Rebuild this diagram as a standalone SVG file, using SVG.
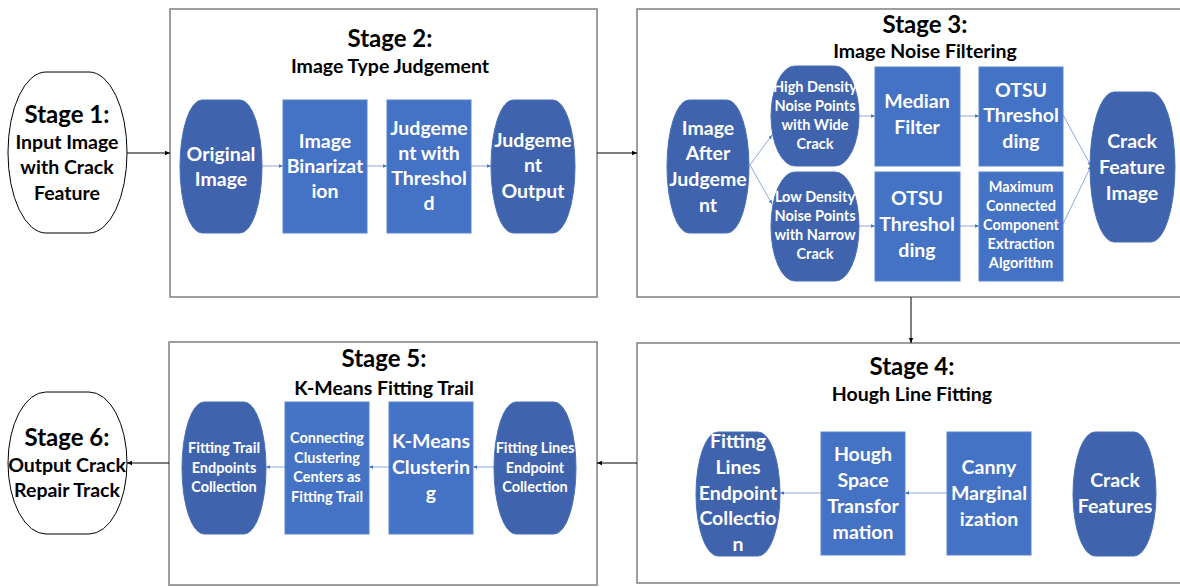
<svg xmlns="http://www.w3.org/2000/svg" width="1180" height="587" viewBox="0 0 1180 587">
<style>
.stage{fill:#fff;stroke:#7f7f7f;stroke-width:1.5}
.term{fill:#fff;stroke:#000;stroke-width:1}
.oval{fill:#3F63AD;stroke:#4A70B8;stroke-width:1}
.box{fill:#4472C4;stroke:#5B84CC;stroke-width:1}
text{font-family:Lato,"Liberation Sans",sans-serif;font-weight:bold;text-anchor:middle}
.t1{font-size:24px;fill:#000}
.t2{font-size:19.5px;fill:#000}
.w{font-size:19.5px;fill:#fff}
.s{font-size:14.5px;fill:#fff}
.bl{stroke:#000;stroke-width:1;fill:none}
.bu{stroke:#6F93D6;stroke-width:0.8;fill:none}
</style>
<defs>
<marker id="ak" markerWidth="6" markerHeight="6" refX="5" refY="3" orient="auto" markerUnits="userSpaceOnUse"><path d="M0,0.8 L5,3 L0,5.2 z" fill="#000"/></marker>
<marker id="au" markerWidth="5" markerHeight="5" refX="4" refY="2.5" orient="auto" markerUnits="userSpaceOnUse"><path d="M0,0.8 L4,2.5 L0,4.2 z" fill="#4472C4"/></marker>
</defs>

<g id="stage2-frame"><rect class="stage" x="170" y="9" width="427" height="288"/>
<text class="t1" x="390" y="47">Stage 2:</text><text class="t2" x="390" y="73">Image Type Judgement</text></g>
<g id="stage3-frame"><rect class="stage" x="637" y="9" width="545" height="288"/>
<text class="t1" x="925" y="33">Stage 3:</text><text class="t2" x="925" y="58">Image Noise Filtering</text></g>
<g id="stage4-frame"><rect class="stage" x="637" y="343" width="545" height="240"/>
<text class="t1" x="912" y="375">Stage 4:</text><text class="t2" x="912" y="401">Hough Line Fitting</text></g>
<g id="stage5-frame"><rect class="stage" x="169" y="342" width="428" height="243"/>
<text class="t1" x="384" y="367">Stage 5:</text><text class="t2" x="384" y="395">K-Means Fitting Trail</text></g>

<g id="connectors">
<line class="bl" x1="127" y1="153" x2="170" y2="153" marker-end="url(#ak)"/>
<line class="bl" x1="597" y1="153" x2="637" y2="153" marker-end="url(#ak)"/>
<line class="bl" x1="911" y1="297" x2="911" y2="343" marker-end="url(#ak)"/>
<line class="bl" x1="637" y1="463" x2="597" y2="463" marker-end="url(#ak)"/>
<line class="bl" x1="169" y1="463" x2="127" y2="463" marker-end="url(#ak)"/>
<line class="bu" x1="262" y1="166" x2="283" y2="166" marker-end="url(#au)"/>
<line class="bu" x1="367" y1="166" x2="387" y2="166" marker-end="url(#au)"/>
<line class="bu" x1="471" y1="166" x2="491" y2="166" marker-end="url(#au)"/>
<line class="bu" x1="750" y1="165" x2="772" y2="135" marker-end="url(#au)"/>
<line class="bu" x1="750" y1="165" x2="772" y2="204" marker-end="url(#au)"/>
<line class="bu" x1="859" y1="116" x2="875" y2="116" marker-end="url(#au)"/>
<line class="bu" x1="859" y1="226" x2="875" y2="226" marker-end="url(#au)"/>
<line class="bu" x1="960" y1="116" x2="979" y2="116" marker-end="url(#au)"/>
<line class="bu" x1="960" y1="226" x2="979" y2="226" marker-end="url(#au)"/>
<line class="bu" x1="1063" y1="115" x2="1091" y2="166" marker-end="url(#au)"/>
<line class="bu" x1="1063" y1="224" x2="1091" y2="166" marker-end="url(#au)"/>
<line class="bu" x1="947" y1="493" x2="905" y2="493" marker-end="url(#au)"/>
<line class="bu" x1="821" y1="493" x2="780" y2="493" marker-end="url(#au)"/>
<line class="bu" x1="494" y1="467" x2="473" y2="467" marker-end="url(#au)"/>
<line class="bu" x1="389" y1="467" x2="369" y2="467" marker-end="url(#au)"/>
<line class="bu" x1="285" y1="467" x2="266" y2="467" marker-end="url(#au)"/>
</g>

<g id="stage1"><rect class="term" x="8" y="72" width="119" height="161" rx="38" ry="80"/>
<text class="t1" x="67" y="123">Stage 1:</text>
<text class="t2" x="67" y="149">Input Image</text><text class="t2" x="67" y="174">with Crack</text><text class="t2" x="67" y="200">Feature</text></g>

<g id="original-image"><rect class="oval" x="180" y="100" width="82" height="133" rx="22" ry="66"/>
<text class="w" x="221" y="161">Original</text><text class="w" x="221" y="186">Image</text></g>
<g id="image-binarization"><rect class="box" x="283" y="100" width="84" height="133"/>
<text class="w" x="325" y="148">Image</text><text class="w" x="325" y="173">Binarizat</text><text class="w" x="325" y="198">ion</text></g>
<g id="judgement-threshold"><rect class="box" x="387" y="100" width="84" height="133"/>
<text class="w" x="429" y="135">Judgeme</text><text class="w" x="429" y="160">nt with</text><text class="w" x="429" y="185">Threshol</text><text class="w" x="429" y="210">d</text></g>
<g id="judgement-output"><rect class="oval" x="491" y="100" width="84" height="133" rx="22" ry="66"/>
<text class="w" x="533" y="147">Judgeme</text><text class="w" x="533" y="172">nt</text><text class="w" x="533" y="198">Output</text></g>

<g id="image-after-judgement"><rect class="oval" x="667" y="100" width="82" height="133" rx="22" ry="66"/>
<text class="w" x="708" y="135">Image</text><text class="w" x="708" y="160">After</text><text class="w" x="708" y="186">Judgeme</text><text class="w" x="708" y="212">nt</text></g>
<g id="high-density"><rect class="oval" x="771" y="66" width="88" height="100" rx="24" ry="50"/>
<text class="s" x="815" y="92">High Density</text><text class="s" x="815" y="111">Noise Points</text><text class="s" x="815" y="130">with Wide</text><text class="s" x="815" y="149">Crack</text></g>
<g id="low-density"><rect class="oval" x="771" y="172" width="88" height="109" rx="24" ry="54"/>
<text class="s" x="815" y="202">Low Density</text><text class="s" x="815" y="221">Noise Points</text><text class="s" x="815" y="240">with Narrow</text><text class="s" x="815" y="259">Crack</text></g>
<g id="median-filter"><rect class="box" x="875" y="67" width="85" height="99"/>
<text class="w" x="917" y="108">Median</text><text class="w" x="917" y="134">Filter</text></g>
<g id="otsu-top"><rect class="box" x="979" y="67" width="84" height="99"/>
<text class="w" x="1021" y="97">OTSU</text><text class="w" x="1021" y="122">Threshol</text><text class="w" x="1021" y="148">ding</text></g>
<g id="otsu-bottom"><rect class="box" x="875" y="172" width="85" height="109"/>
<text class="w" x="917" y="205">OTSU</text><text class="w" x="917" y="231">Threshol</text><text class="w" x="917" y="257">ding</text></g>
<g id="max-connected"><rect class="box" x="979" y="172" width="84" height="109"/>
<text class="s" x="1021" y="192">Maximum</text><text class="s" x="1021" y="211">Connected</text><text class="s" x="1021" y="230">Component</text><text class="s" x="1021" y="249">Extraction</text><text class="s" x="1021" y="268">Algorithm</text></g>
<g id="crack-feature-image"><rect class="oval" x="1090" y="92" width="85" height="150" rx="24" ry="75"/>
<text class="w" x="1132" y="148">Crack</text><text class="w" x="1132" y="174">Feature</text><text class="w" x="1132" y="200">Image</text></g>

<g id="fitting-lines-4"><rect class="oval" x="696" y="432" width="84" height="124" rx="22" ry="62"/>
<text class="w" x="738" y="448">Fitting</text><text class="w" x="738" y="474">Lines</text><text class="w" x="738" y="500">Endpoint</text><text class="w" x="738" y="525">Collectio</text><text class="w" x="738" y="551">n</text></g>
<g id="hough-space"><rect class="box" x="821" y="432" width="84" height="123"/>
<text class="w" x="863" y="461">Hough</text><text class="w" x="863" y="487">Space</text><text class="w" x="863" y="513">Transfor</text><text class="w" x="863" y="539">mation</text></g>
<g id="canny"><rect class="box" x="947" y="432" width="84" height="123"/>
<text class="w" x="989" y="474">Canny</text><text class="w" x="989" y="500">Marginal</text><text class="w" x="989" y="526">ization</text></g>
<g id="crack-features"><rect class="oval" x="1073" y="432" width="83" height="124" rx="22" ry="62"/>
<text class="w" x="1115" y="487">Crack</text><text class="w" x="1115" y="513">Features</text></g>

<g id="fitting-trail"><rect class="oval" x="182" y="402" width="84" height="132" rx="22" ry="66"/>
<text class="s" x="224" y="453">Fitting Trail</text><text class="s" x="224" y="473">Endpoints</text><text class="s" x="224" y="492">Collection</text></g>
<g id="connecting"><rect class="box" x="285" y="402" width="84" height="132"/>
<text class="s" x="327" y="443">Connecting</text><text class="s" x="327" y="463">Clustering</text><text class="s" x="327" y="482">Centers as</text><text class="s" x="327" y="502">Fitting Trail</text></g>
<g id="kmeans"><rect class="box" x="389" y="402" width="84" height="132"/>
<text class="w" x="431" y="448">K-Means</text><text class="w" x="431" y="474">Clusterin</text><text class="w" x="431" y="500">g</text></g>
<g id="fitting-lines-5"><rect class="oval" x="494" y="402" width="82" height="132" rx="22" ry="66"/>
<text class="s" x="535" y="453">Fitting Lines</text><text class="s" x="535" y="473">Endpoint</text><text class="s" x="535" y="492">Collection</text></g>

<g id="stage6"><rect class="term" x="8" y="392" width="119" height="142" rx="38" ry="71"/>
<text class="t1" x="67" y="446">Stage 6:</text>
<text class="t2" x="67" y="472">Output Crack</text><text class="t2" x="67" y="497">Repair Track</text></g>
</svg>
